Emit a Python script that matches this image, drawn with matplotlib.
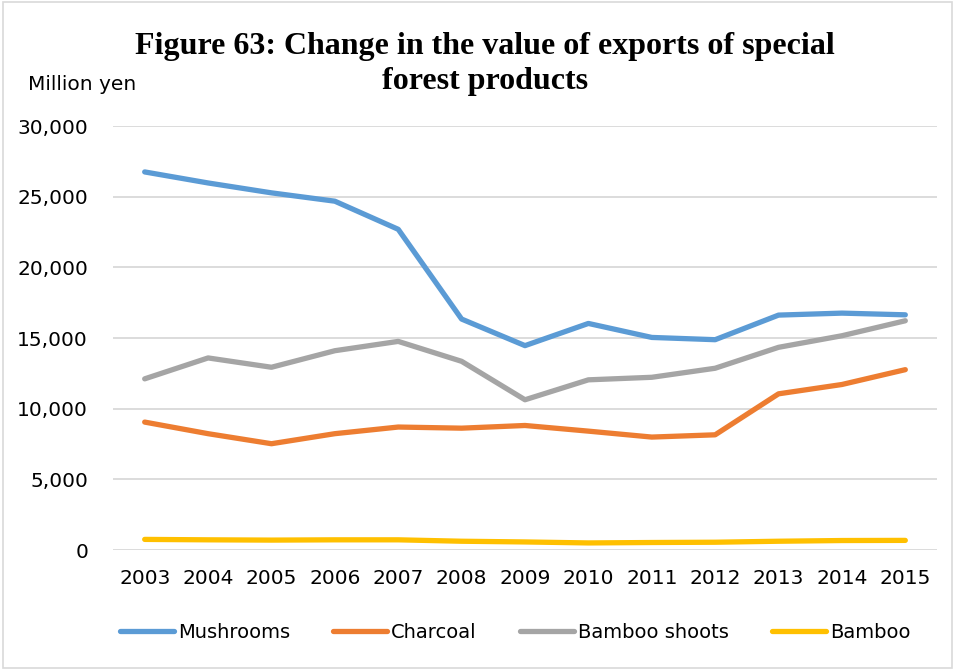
import matplotlib
matplotlib.use("Agg")
import matplotlib.pyplot as plt
from matplotlib.patches import Rectangle
import matplotlib.ticker as ticker

years = [str(y) for y in range(2003, 2016)]
mushrooms = [26750, 25970, 25270, 24680, 22690, 16340, 14460, 16030, 15040, 14880, 16620, 16760, 16640]
charcoal = [9050, 8230, 7520, 8230, 8700, 8620, 8810, 8410, 7990, 8150, 11050, 11710, 12760]
bamboo_shoots = [12110, 13590, 12930, 14100, 14760, 13350, 10630, 12040, 12220, 12860, 14340, 15160, 16220]
bamboo = [750, 720, 700, 720, 720, 620, 570, 500, 530, 550, 620, 670, 680]

series = [
    ("Mushrooms", mushrooms, "#5B9BD5"),
    ("Charcoal", charcoal, "#ED7D31"),
    ("Bamboo shoots", bamboo_shoots, "#A5A5A5"),
    ("Bamboo", bamboo, "#FFC000"),
]

label_font = "DejaVu Sans"

fig = plt.figure(figsize=(9.55, 6.7), dpi=100)
ax = fig.add_axes([113 / 955, 1 - 550 / 670, (937 - 113) / 955, (550 - 126) / 670])

# light border round the whole chart
fig.patches.append(Rectangle((0.003, 0.003), 0.994, 0.994, transform=fig.transFigure,
                             fill=False, edgecolor="#D9D9D9", linewidth=1.2))

x = list(range(len(years)))
for name, vals, col in series:
    ax.plot(x, vals, color=col, linewidth=3.8, label=name, solid_capstyle="round")

ax.set_xlim(-0.5, len(years) - 0.5)
ax.set_ylim(0, 30000)
ax.yaxis.set_major_locator(ticker.MultipleLocator(5000))
ax.yaxis.set_major_formatter(ticker.FuncFormatter(lambda v, p: f"{int(v):,}"))
ax.set_xticks(x)
ax.set_xticklabels(years)
ax.grid(axis="y", color="#D9D9D9", linewidth=1.3)
ax.set_axisbelow(True)
for s in ax.spines.values():
    s.set_visible(False)
ax.tick_params(length=0, labelsize=14.5, pad=14)
ax.tick_params(axis="y", pad=18)
for lab in ax.get_xticklabels() + ax.get_yticklabels():
    lab.set_family(label_font)
    lab.set_color("#000000")

fig.text(0.508, 1 - 64 / 670, "Figure 63: Change in the value of exports of special\nforest products",
         ha="center", va="center", fontsize=23, fontweight="bold",
         family="Liberation Serif", linespacing=1.3)
fig.text(28 / 955, 1 - 85 / 670, "Million yen", ha="left", va="center",
         fontsize=14.5, family=label_font)

fig.legend(loc="center", bbox_to_anchor=(515 / 955, 1 - 632 / 670), ncol=4,
           frameon=False, handlelength=2.8, columnspacing=2.2, handletextpad=0.2,
           prop={"family": label_font, "size": 14})

fig.savefig("out.png", dpi=100)
